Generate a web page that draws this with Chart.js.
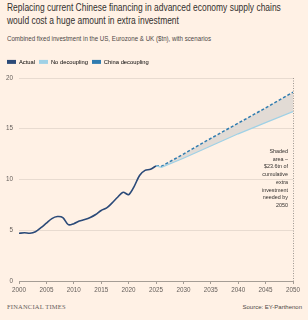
<!DOCTYPE html>
<html><head><meta charset="utf-8">
<script src="https://cdn.jsdelivr.net/npm/chart.js@4/dist/chart.umd.min.js"></script>
<style>
html,body{margin:0;padding:0;background:#fff1e5;}
body{width:308px;height:320px;position:relative;overflow:hidden;font-family:"Liberation Sans",sans-serif;}
.t{position:absolute;left:7px;top:1px;width:340px;font-size:10px;line-height:13px;color:#33302e;transform:scaleX(0.845);transform-origin:0 0;white-space:nowrap;}
.s{position:absolute;left:7px;top:35px;font-size:7px;color:#4d4845;white-space:nowrap;transform:scaleX(0.88);transform-origin:0 0;}
.ft{position:absolute;left:7px;top:303px;font-family:"Liberation Serif",serif;font-size:6.5px;letter-spacing:0.2px;color:#66605c;}
.src{position:absolute;right:6px;top:304px;font-size:6px;color:#4d4845;}
#wrap{position:absolute;left:0;top:52px;width:308px;height:246px;}
</style></head>
<body>
<div class="t">Replacing current Chinese financing in advanced economy supply chains<br>would cost a huge amount in extra investment</div>
<div class="s">Combined fixed investment in the US, Eurozone &amp; UK ($tn), with scenarios</div>
<div id="wrap"><canvas id="c"></canvas></div>
<div class="ft">FINANCIAL TIMES</div>
<div class="src">Source: EY-Parthenon</div>
<script>
const years = [2000,2001,2002,2003,2004,2005,2006,2007,2008,2009,2010,2011,2012,2013,2014,2015,2016,2017,2018,2019,2020,2021,2022,2023,2024,2025];
const actual = [4.7,4.75,4.7,4.85,5.25,5.7,6.15,6.35,6.25,5.55,5.65,5.9,6.05,6.25,6.55,6.95,7.2,7.7,8.25,8.75,8.5,9.3,10.4,10.9,11.0,11.35];
const projYears = [2025,2026,2030,2035,2040,2045,2050];
const noDecoupling = [11.35,11.2,12.1,13.3,14.5,15.6,16.7];
const chinaDecoupling = [11.35,11.3,12.5,14.05,15.55,17.05,18.6];
const xTicks = [2000,2005,2010,2015,2020,2025,2030,2035,2040,2045,2050];
const yTicks = [0,5,10,15,20];
const seriesNames = ['Actual','No decoupling','China decoupling'];
const noteLines = ['Shaded','area \u2013','$23.6tn of','cumulative','extra','investment','needed by','2050'];

const pts = (xs, ys) => xs.map((x,i)=>({x:x,y:ys[i]}));
const colActual='#2b4a78', colNo='#9fd1e6', colChina='#2f7cb0';
const FONT='"Liberation Sans",sans-serif';

const notePlugin = {
  id:'note',
  beforeDatasetsDraw(chart){
    const {ctx, chartArea, scales} = chart;
    const x = scales.x.getPixelForValue(2050);
    ctx.save();
    ctx.strokeStyle='#9e9791';ctx.lineWidth=1;ctx.setLineDash([1,1.5]);
    ctx.beginPath();ctx.moveTo(x+0.5,chartArea.top);ctx.lineTo(x+0.5,chartArea.bottom);ctx.stroke();
    ctx.restore();
  },
  afterDatasetsDraw(chart){
    const {ctx, scales} = chart;
    const x = scales.x.getPixelForValue(2050) - 5;
    let y = scales.y.getPixelForValue(12.75);
    ctx.save();
    ctx.font='5.4px '+FONT;
    ctx.fillStyle='#33302e';ctx.textAlign='right';ctx.textBaseline='middle';
    noteLines.forEach(l=>{ctx.fillText(l,x,y);y+=7.7;});
    ctx.restore();
  }
};
const legendFix = {
  id:'legendFix',
  beforeInit(chart){
    const lg = chart.legend;
    if(lg){const f = lg.fit; lg.fit = function(){f.call(this); this.height = 23;};}
  }
};

new Chart(document.getElementById('c'), {
  type:'line',
  data:{datasets:[
    {label:seriesNames[0],data:pts(years,actual),borderColor:colActual,backgroundColor:colActual,borderWidth:1.6,pointRadius:0,tension:0.3,fill:false},
    {label:seriesNames[1],data:pts(projYears,noDecoupling),borderColor:colNo,backgroundColor:'#e2dbd5',borderWidth:1.2,pointRadius:0,tension:0,fill:'+1'},
    {label:seriesNames[2],data:pts(projYears,chinaDecoupling),borderColor:colChina,backgroundColor:colChina,borderWidth:1.5,borderDash:[3,2],pointRadius:0,tension:0,fill:false}
  ]},
  plugins:[legendFix,notePlugin],
  options:{
    responsive:true,maintainAspectRatio:false,animation:false,
    layout:{padding:{left:3,right:15,top:3,bottom:0}},
    plugins:{
      filler:{drawTime:'beforeDatasetsDraw'},
      legend:{display:true,position:'top',align:'start',
        labels:{boxWidth:9,boxHeight:4,padding:4,color:'#4d4845',
          font:{family:FONT,size:5.8},
          generateLabels(chart){return chart.data.datasets.map((d,i)=>({text:d.label,fillStyle:[colActual,colNo,colChina][i],strokeStyle:[colActual,colNo,colChina][i],lineWidth:0,datasetIndex:i}));}
        }},
      tooltip:{enabled:false}
    },
    scales:{
      x:{type:'linear',min:2000,max:2050,
        afterBuildTicks(s){s.ticks=xTicks.map(v=>({value:v}));},
        afterFit(s){s.height=17;},
        grid:{drawOnChartArea:false,drawTicks:true,tickLength:3,tickColor:'#a59d95'},
        border:{display:true,color:'#a59d95',width:1},
        ticks:{padding:2,color:'#66605c',maxRotation:0,font:{family:FONT,size:6.3},callback:v=>String(v)}
      },
      y:{min:0,max:20,
        afterBuildTicks(s){s.ticks=yTicks.map(v=>({value:v}));},
        afterFit(s){s.width=16;},
        grid:{drawTicks:false,color:c=>c.tick&&c.tick.value===0?'#a59d95':'#e8dbd0',lineWidth:1},
        border:{display:false},
        ticks:{padding:6,color:'#66605c',font:{family:FONT,size:6.3}}
      }
    }
  }
});
</script>
</body></html>
